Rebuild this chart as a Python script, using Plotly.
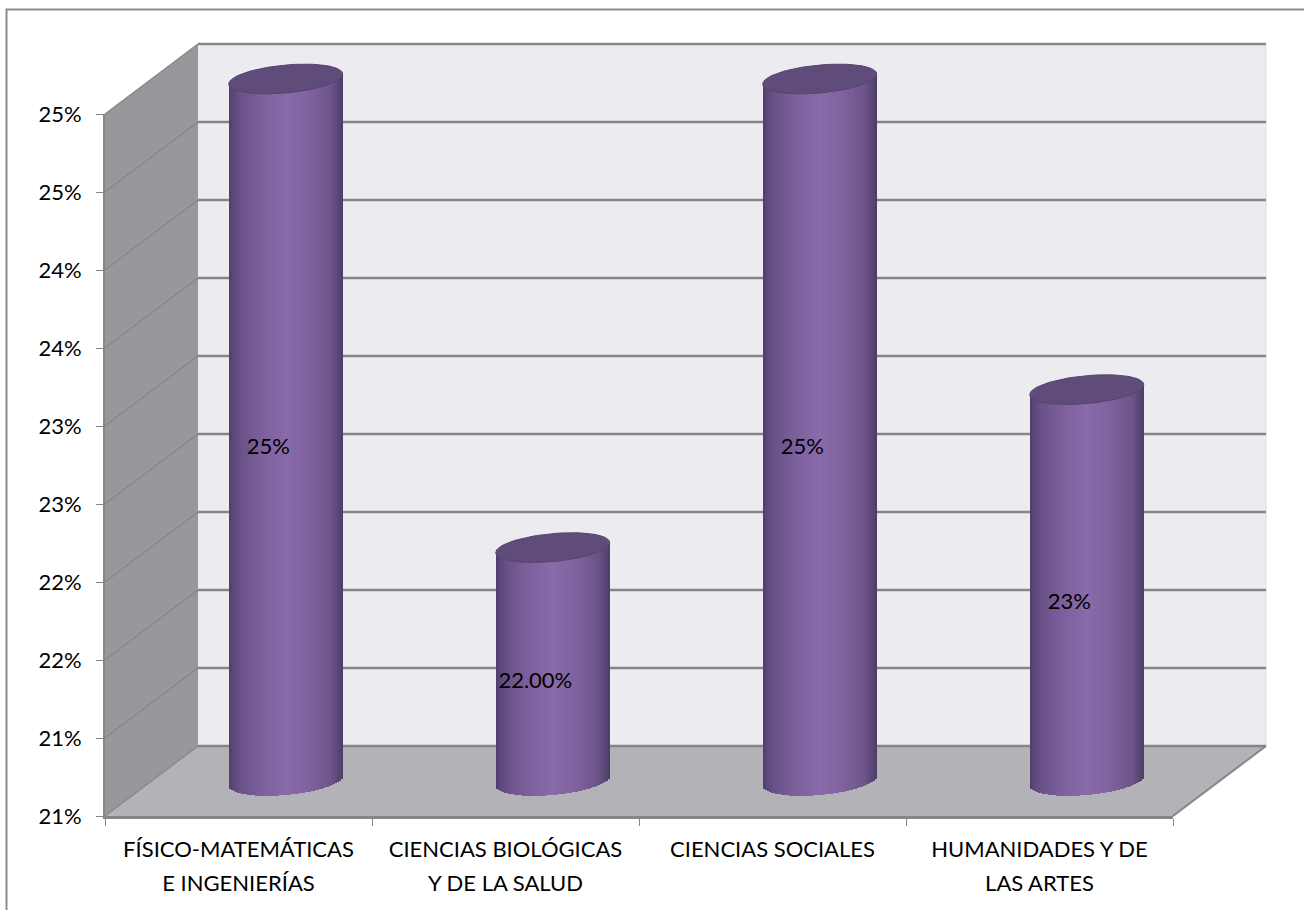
import numpy as np
import plotly.graph_objects as go

W, H = 1304, 910
categories_line1 = ["FÍSICO-MATEMÁTICAS", "CIENCIAS BIOLÓGICAS", "CIENCIAS SOCIALES", "HUMANIDADES Y DE"]
categories_line2 = ["E INGENIERÍAS", "Y DE LA SALUD", "", "LAS ARTES"]
values = [25.0, 22.33, 25.0, 23.23]
value_labels = ["25%", "22.00%", "25%", "23%"]
y_ticks = [21 + i * 4 / 9 for i in range(10)]
y_tick_labels = ["21%", "21%", "22%", "22%", "23%", "23%", "24%", "24%", "25%", "25%"]

# front plane in pixels
FX0, FX1, FY0, FY1 = 105, 1173, 816, 114
PX_CAT = (FX1 - FX0) / 4
PX_VAL = (FY0 - FY1) / 4
DX = 93 / PX_CAT     # depth offset, category units
DY = 70 / PX_VAL     # depth offset, value units
XMIN, XMAX, YMIN, YMAX = -0.5, 3.5, 21, 25

GRID = "#868686"
FONT = "Lato"
FS = 22

fig = go.Figure()

def poly(xs, ys, fill=None, line=None, lw=1, ax=("x2", "y2")):
    fig.add_trace(go.Scatter(
        x=xs, y=ys, xaxis=ax[0], yaxis=ax[1], mode="lines",
        fill="toself" if fill else None, fillcolor=fill,
        line=dict(color=line or "rgba(0,0,0,0)", width=lw if line else 0),
        hoverinfo="skip", showlegend=False))

# back wall
poly([XMIN + DX, XMAX + DX, XMAX + DX, XMIN + DX], [YMIN + DY, YMIN + DY, YMAX + DY, YMAX + DY], "#ECEBF0")
# side wall
poly([XMIN, XMIN + DX, XMIN + DX, XMIN], [YMIN, YMIN + DY, YMAX + DY, YMAX], "#98979B")
# floor
poly([XMIN, XMAX, XMAX + DX, XMIN + DX], [YMIN, YMIN, YMIN + DY, YMIN + DY], "#B3B2B6")
# right hairline of back wall
poly([XMAX + DX, XMAX + DX], [YMIN + DY, YMAX + DY], None, "#E0DEE4", 1)
# grid lines
for tick in y_ticks:
    poly([XMIN + DX, XMAX + DX], [tick + DY, tick + DY], None, GRID, 2.5)
    poly([XMIN, XMIN + DX], [tick, tick + DY], None, GRID, 1.25)
poly([XMAX, XMAX + DX], [YMIN, YMIN + DY], None, GRID, 2)

# cylinders
HALF = 57 / PX_CAT
CAP_H = 14 / PX_VAL
CAP_K = 5.0 / PX_VAL
SHIFT = 0.7 / PX_CAT
N = 57
u_edges = np.linspace(-1, 1, N + 1)
u = (u_edges[:-1] + u_edges[1:]) / 2
stops_u = [-1.0, -0.96, -0.8, -0.45, 0.0, 0.42, 0.78, 0.96, 1.0]
stops_rgb = [(76, 60, 104), (88, 70, 118), (106, 82, 136), (124, 96, 156), (138, 107, 171),
             (127, 98, 158), (109, 84, 137), (84, 66, 112), (76, 60, 102)]
cols = ["rgb(%d,%d,%d)" % tuple(np.interp(a, stops_u, [c[j] for c in stops_rgb]) for j in range(3)) for a in u]
bx, bw, bb, bh, bc = [], [], [], [], []
for i, v in enumerate(values):
    cx = i + 0.5 * DX + SHIFT
    base = YMIN + 0.5 * DY
    for a, col in zip(u, cols):
        low = base + CAP_K * a - CAP_H * np.sqrt(max(1 - a * a, 0))
        top = v + 0.5 * DY + CAP_K * a
        bx.append(float(cx + a * HALF))
        bw.append(2 * HALF / N * 1.15)
        bb.append(float(low))
        bh.append(float(top - low))
        bc.append(col)
fig.add_trace(go.Bar(x=bx, y=bh, base=bb, width=bw, xaxis="x4", yaxis="y4",
                     marker=dict(color=bc, line=dict(width=0)), hoverinfo="skip", showlegend=False))
t = np.linspace(0, 2 * np.pi, 90)
for i, v in enumerate(values):
    cx = i + 0.5 * DX + SHIFT
    top = v + 0.5 * DY
    poly(cx + HALF * np.cos(t), top + CAP_K * np.cos(t) + CAP_H * np.sin(t), "#604C7A", "#57436F", 1, ("x4", "y4"))

# data labels
fig.add_trace(go.Scatter(
    x=[i + 0.31 * DX + 1 / PX_CAT for i in range(4)],
    y=[(v + YMIN) / 2 + 0.27 * DY - 2 / PX_VAL for v in values],
    text=value_labels, mode="text", textposition="middle center",
    textfont=dict(family=FONT, size=FS, color="#000000"),
    xaxis="x4", yaxis="y4", hoverinfo="skip", showlegend=False))

# carriers for the category axes
fig.add_trace(go.Scatter(x=categories_line1, y=values, mode="markers", marker=dict(opacity=0),
                         xaxis="x", yaxis="y", hoverinfo="skip", showlegend=False))
fig.add_trace(go.Scatter(x=[0, 1, 2, 3], y=values, mode="markers", marker=dict(opacity=0),
                         xaxis="x3", yaxis="y", hoverinfo="skip", showlegend=False))

tickfont = dict(family=FONT, size=FS, color="#000000")
hx = [XMIN - FX0 / PX_CAT, XMIN + (W - FX0) / PX_CAT]
hy = [YMIN - (H - FY0) / PX_VAL, YMIN + FY0 / PX_VAL]
fig.update_layout(
    template="none",
    width=W, height=H, margin=dict(l=0, r=0, t=0, b=0, pad=0),
    paper_bgcolor="white", plot_bgcolor="rgba(0,0,0,0)",
    bargap=0, barmode="overlay",
    xaxis=dict(domain=[FX0 / W, FX1 / W], type="category", categoryorder="array",
               categoryarray=categories_line1, range=[XMIN, XMAX], tickson="boundaries",
               ticks="outside", ticklen=7, tickwidth=1.25, tickcolor=GRID,
               showline=True, linecolor=GRID, linewidth=2.5, showgrid=False, zeroline=False,
               tickfont=tickfont, tickangle=0, ticklabelstandoff=12, anchor="y", layer="above traces"),
    yaxis=dict(domain=[1 - FY0 / H, 1 - FY1 / H], range=[YMIN, YMAX], tickmode="array",
               tickvals=y_ticks, ticktext=y_tick_labels,
               ticks="outside", ticklen=7, tickwidth=1.25, tickcolor=GRID,
               showline=True, linecolor=GRID, linewidth=2, showgrid=False, zeroline=False,
               tickfont=tickfont, ticklabelstandoff=10, anchor="x", layer="above traces"),
    xaxis3=dict(domain=[FX0 / W, FX1 / W], range=[XMIN, XMAX], overlaying="x", anchor="y",
                side="bottom", tickmode="array", tickvals=list(range(4)), ticktext=categories_line2,
                ticks="", showgrid=False, zeroline=False, showline=False,
                tickfont=tickfont, ticklabelstandoff=52),
    xaxis2=dict(domain=[0, 1], range=hx, visible=False, anchor="y2"),
    yaxis2=dict(domain=[0, 1], range=hy, visible=False, anchor="x2"),
    xaxis4=dict(domain=[0, 1], range=hx, visible=False, anchor="y4"),
    yaxis4=dict(domain=[0, 1], range=hy, visible=False, anchor="x4"),
    shapes=[dict(type="rect", xref="paper", yref="paper", x0=6.5 / W, x1=1.01, y0=-0.01, y1=1 - 9.5 / H,
                 line=dict(color="#8C8C8C", width=2), fillcolor="rgba(0,0,0,0)", layer="above")],
)
fig.write_html("out.html", config=dict(displayModeBar=False),
               post_script="document.body.style.margin='0';document.documentElement.style.overflow='hidden';")
